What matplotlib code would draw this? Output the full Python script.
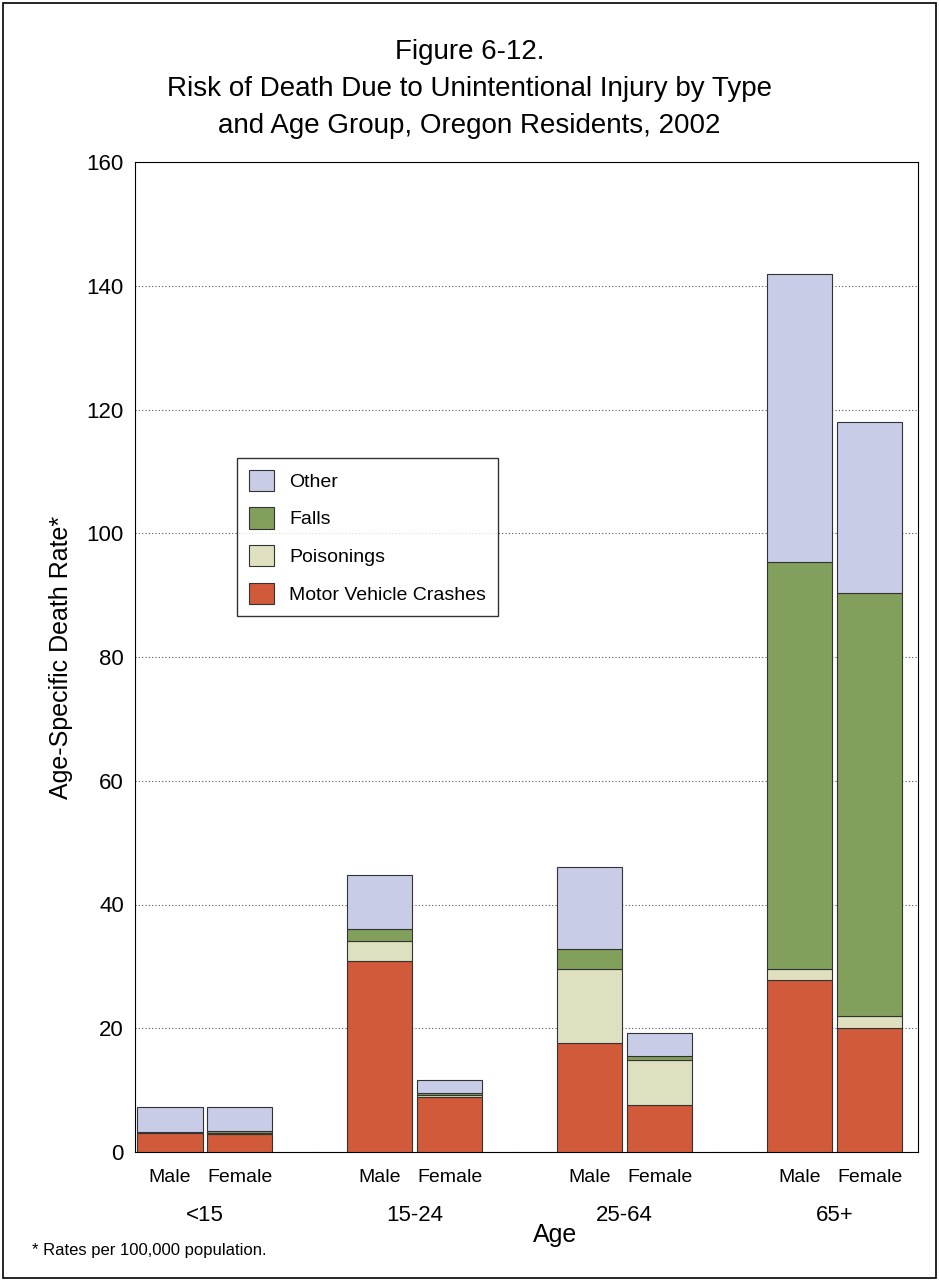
import matplotlib
matplotlib.use("Agg")
import matplotlib.pyplot as plt
from matplotlib.patches import Rectangle

groups = ["<15", "15-24", "25-64", "65+"]
sexes = ["Male", "Female"]
motor = [3.1, 2.9, 30.9, 8.9, 17.6, 7.6, 27.8, 20.0]
poison = [0.1, 0.2, 3.2, 0.3, 12.0, 7.3, 1.8, 2.0]
falls = [0.1, 0.3, 1.9, 0.3, 3.2, 0.6, 65.7, 68.3]
other = [4.0, 3.9, 8.8, 2.1, 13.2, 3.7, 46.6, 27.7]

colors = {"Motor Vehicle Crashes": "#d05a3a", "Poisonings": "#dfe0c0",
          "Falls": "#82a05c", "Other": "#c8cce6"}

plt.rcParams["font.family"] = "Liberation Sans"
fig = plt.figure(figsize=(9.39, 12.81), dpi=100)
W, H = 939, 1281
fig.patches.append(Rectangle((3 / W, 3 / H), 1 - 6 / W, 1 - 6 / H, transform=fig.transFigure,
                             fill=False, edgecolor="black", lw=1.2))
ax = fig.add_axes([135 / W, 1 - 1152 / H, (918 - 135) / W, (1152 - 162) / H])

xs = [0, 1, 3, 4, 6, 7, 9, 10]
bottom = [0] * 8
handles = {}
for name, vals in [("Motor Vehicle Crashes", motor), ("Poisonings", poison),
                   ("Falls", falls), ("Other", other)]:
    b = ax.bar(xs, vals, width=0.93, bottom=bottom, color=colors[name],
               edgecolor="#333333", lw=0.8, zorder=3)
    handles[name] = b
    bottom = [a + v for a, v in zip(bottom, vals)]

ax.set_xlim(-0.5, 10.69)
ax.set_ylim(0, 160)
ax.set_yticks(range(0, 161, 20))
ax.tick_params(axis="y", labelsize=16, length=0, pad=8)
ax.grid(axis="y", linestyle=(0, (1, 2)), color="#555555", lw=0.8, zorder=0)
ax.set_xticks(xs)
ax.set_xticklabels(sexes * 4, fontsize=14)
ax.tick_params(axis="x", length=0, pad=12)
for i, g in enumerate(groups):
    ax.text(xs[2 * i] + 0.5, -10.3, g, ha="center", va="center", fontsize=16)
ax.text(5.5, -13.4, "Age", ha="center", va="center", fontsize=18)
ax.set_ylabel("Age-Specific Death Rate*", fontsize=18, labelpad=10)

fig.text(0.5, 1 - 52 / H, "Figure 6-12.", ha="center", va="center", fontsize=20)
fig.text(0.5, 1 - 89 / H, "Risk of Death Due to Unintentional Injury by Type",
         ha="center", va="center", fontsize=20)
fig.text(0.5, 1 - 126 / H, "and Age Group, Oregon Residents, 2002",
         ha="center", va="center", fontsize=20)
fig.text(32 / W, 1 - 1250 / H, "* Rates per 100,000 population.", ha="left", va="center", fontsize=12)

order = ["Other", "Falls", "Poisonings", "Motor Vehicle Crashes"]
leg = ax.legend([handles[n] for n in order], order, loc="upper left",
                bbox_to_anchor=((237 - 135) / 783, 1 - (458 - 162) / 990),
                borderaxespad=0, fontsize=14, frameon=True, fancybox=False, edgecolor="black",
                borderpad=0.6, labelspacing=0.85, handlelength=1.3, handleheight=1.3)
leg.get_frame().set_linewidth(1.0)

fig.savefig("out.png", dpi=100)
